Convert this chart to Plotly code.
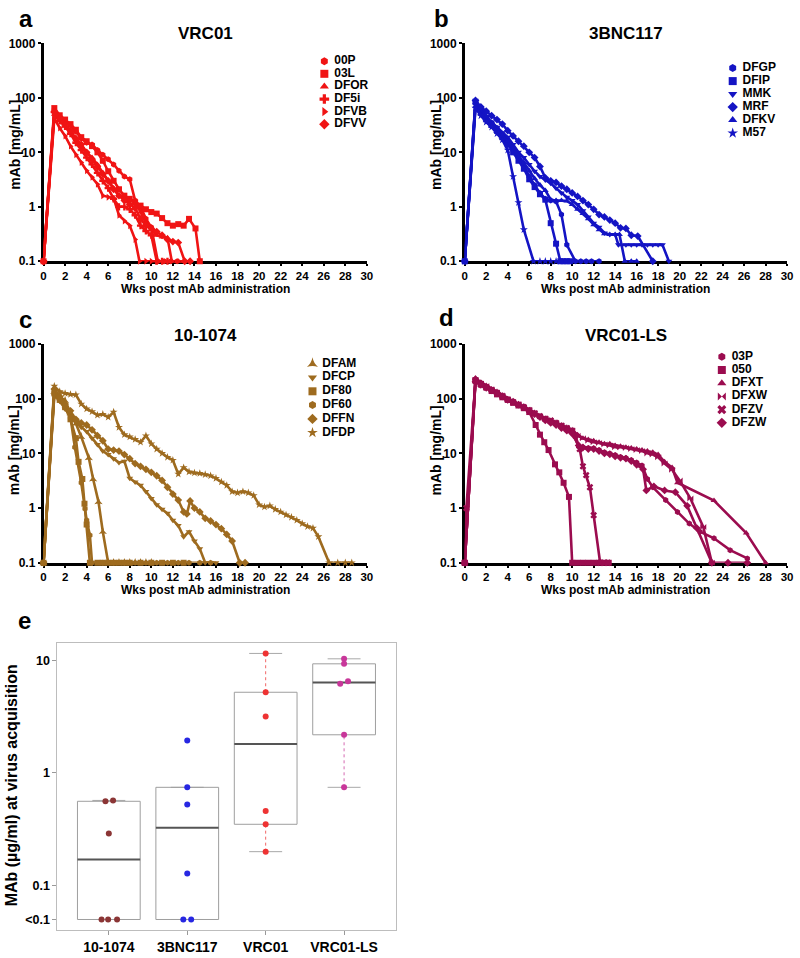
import math
import plotly.graph_objects as go

# ======================= DATA =======================
# ---- Panel a: VRC01 (weeks post mAb, mAb level) ----
a_names = ["00P", "03L", "DFOR", "DF5i", "DFVB", "DFVV"]
a_wk_00P = [0, 1, 1.5, 2, 2.5, 3, 3.5, 4, 4.5, 5, 5.5, 6, 6.5, 7, 7.5, 8, 8.5, 9, 9.5, 10, 10.6, 11.2, 11.8, 12.4]
a_mab_00P = [0.1, 60, 45, 38, 31, 24, 18, 15, 14, 11, 9, 7.5, 6, 4.6, 3.6, 3.2, 1.3, 1.0, 0.6, 0.42, 0.1, 0.1, 0.1, 0.1]
a_wk_03L = [0, 1, 1.5, 2, 2.5, 3, 3.5, 4, 4.5, 5, 5.5, 6, 6.5, 7, 7.5, 8, 8.5, 9, 9.5, 10, 10.5, 11, 11.5, 12, 12.5, 13, 13.5, 14.1, 14.5]
a_mab_03L = [0.1, 65, 48, 40, 33, 26, 19, 16, 13, 10, 7, 4.5, 3.0, 2.1, 1.6, 1.4, 1.2, 1.05, 0.9, 0.8, 0.75, 0.62, 0.5, 0.45, 0.48, 0.45, 0.6, 0.4, 0.1]
a_wk_DFOR = [0, 1, 1.5, 2, 2.5, 3, 3.5, 4, 4.5, 5, 5.5, 6, 6.5, 7, 7.5, 8, 8.5, 9, 9.5, 10, 10.5, 11, 11.5, 11.9, 12.5, 13]
a_mab_DFOR = [0.1, 50, 38, 30, 24, 17, 13, 10, 8, 6, 4.2, 3, 2.2, 1.6, 1.4, 1.3, 1.2, 0.8, 0.5, 0.38, 0.3, 0.28, 0.27, 0.1, 0.1, 0.1]
a_wk_DF5i = [0, 1, 1.5, 2, 2.5, 3, 3.5, 4, 4.5, 5, 5.5, 6, 6.5, 7, 7.5, 8, 8.5, 9, 9.5, 10, 10.5, 11, 11.5]
a_mab_DF5i = [0.1, 55, 38, 30, 22, 15, 11, 8, 6, 4.2, 3, 2.2, 1.4, 1.0, 1.0, 0.9, 0.7, 0.45, 0.36, 0.3, 0.1, 0.1, 0.1]
a_wk_DFVB = [0, 1, 1.5, 2, 2.5, 3, 3.5, 4, 4.5, 5, 5.5, 6, 6.5, 7, 7.5, 8, 8.5, 8.9, 9.5, 10, 10.5]
a_mab_DFVB = [0.1, 42, 28, 20, 13, 9, 6.5, 4.6, 3.5, 2.6, 1.6, 1.5, 1.45, 0.7, 0.55, 0.45, 0.25, 0.1, 0.1, 0.1, 0.1]
a_wk_DFVV = [0, 1, 1.5, 2, 2.5, 3, 3.5, 4, 4.5, 5, 5.5, 6, 6.5, 7, 7.5, 8, 8.5, 9, 9.5, 10, 10.5, 11, 11.5, 12, 12.5, 13.1, 13.6]
a_mab_DFVV = [0.1, 55, 42, 33, 25, 18, 14, 10, 7.5, 5.5, 4, 3, 2.1, 1.6, 1.3, 1.1, 0.95, 0.6, 0.45, 0.4, 0.35, 0.3, 0.25, 0.23, 0.22, 0.1, 0.1]

# ---- Panel b: 3BNC117 ----
b_names = ["DFGP", "DFIP", "MMK", "MRF", "DFKV", "M57"]
b_wk_DFGP = [0, 1, 1.5, 2, 2.5, 3, 3.5, 4, 4.5, 5, 5.5, 6, 6.5, 7, 7.5, 8, 8.5, 9, 9.5, 10.3, 10.8, 11.3, 11.8, 12.5]
b_mab_DFGP = [0.1, 82, 60, 45, 35, 28, 21, 16, 11, 8, 5.5, 3.6, 2.5, 1.8, 1.4, 1.3, 1.25, 0.72, 0.2, 0.1, 0.1, 0.1, 0.1, 0.1]
b_wk_DFIP = [0, 1, 1.5, 2, 2.5, 3, 3.5, 4, 4.5, 5, 5.5, 6, 6.5, 7, 7.5, 8, 8.5, 8.9, 9.2, 9.5, 9.8]
b_mab_DFIP = [0.1, 85, 55, 42, 32, 25, 19, 14, 10, 7, 5, 3.2, 2.3, 1.7, 1.35, 0.5, 0.21, 0.1, 0.1, 0.1, 0.1]
b_wk_MMK = [0, 1, 1.5, 2, 2.5, 3, 3.5, 4, 4.5, 5, 5.5, 6, 6.5, 7, 7.5, 8, 8.5, 9, 9.5, 10, 10.5, 11, 11.5, 12, 12.5, 13, 13.5, 14, 14.3, 15, 15.5, 16, 16.5, 17, 17.5, 18, 18.4, 19]
b_mab_MMK = [0.1, 75, 58, 45, 36, 29, 23, 19, 14, 10, 8, 6, 4.5, 3.6, 3.1, 2.7, 2.2, 1.8, 1.5, 1.3, 1.1, 0.85, 0.65, 0.5, 0.42, 0.33, 0.31, 0.31, 0.2, 0.2, 0.2, 0.2, 0.2, 0.2, 0.2, 0.2, 0.2, 0.1]
b_wk_MRF = [0, 1, 1.5, 2, 2.5, 3, 3.5, 4, 4.5, 5, 5.5, 6, 6.5, 7, 7.5, 8, 8.5, 9, 9.5, 10, 10.5, 11, 11.5, 12, 12.5, 13, 13.5, 14, 14.5, 15, 15.5, 16.1, 17.5]
b_mab_MRF = [0.1, 90, 68, 57, 47, 40, 33, 25, 20, 16, 13, 10, 8, 5.5, 3.4, 3.0, 2.8, 2.4, 2.1, 1.8, 1.55, 1.3, 1.1, 0.9, 0.72, 0.65, 0.57, 0.5, 0.41, 0.4, 0.3, 0.29, 0.1]
b_wk_DFKV = [0, 1, 1.5, 2, 2.5, 3, 3.5, 4, 4.5, 5, 5.5, 6, 6.5, 7, 7.5, 8, 8.5, 9, 9.5, 10, 10.5, 11, 11.5, 12, 12.5, 13, 13.5, 14, 14.4, 14.9, 15.5, 16]
b_mab_DFKV = [0.1, 70, 50, 38, 30, 25, 20, 16, 12, 8.5, 6.5, 4.6, 3.3, 2.5, 2.0, 1.35, 1.3, 1.3, 1.28, 1.1, 0.9, 0.75, 0.6, 0.47, 0.38, 0.32, 0.31, 0.31, 0.31, 0.1, 0.1, 0.1]
b_wk_M57 = [0, 1, 1.5, 2, 2.5, 3, 3.5, 4, 4.5, 5, 5.5, 6.4, 7, 7.5, 8, 8.5]
b_mab_M57 = [0.1, 65, 47, 36, 29, 22, 17, 11, 3.6, 1.2, 0.38, 0.1, 0.1, 0.1, 0.1, 0.1]

# ---- Panel c: 10-1074 ----
c_names = ["DFAM", "DFCP", "DF80", "DF60", "DFFN", "DFDP"]
c_wk_DFAM = [0, 1, 1.5, 2, 2.5, 3, 3.5, 4.2, 4.6, 5.1, 5.5, 6, 6.5, 7, 7.5, 8, 8.5, 9, 9.5, 10]
c_mab_DFAM = [0.1, 135, 110, 92, 55, 35, 20, 8.3, 3.4, 1.3, 0.37, 0.1, 0.1, 0.1, 0.1, 0.1, 0.1, 0.1, 0.1, 0.1]
c_wk_DFCP = [0, 1, 1.5, 2, 2.5, 3, 3.5, 4, 4.5, 5, 5.5, 6, 6.5, 7, 7.5, 8, 8.5, 9, 9.5, 10, 10.5, 11, 11.5, 12, 12.5, 13, 13.5, 14, 14.5, 15, 15.5, 16]
c_mab_DFCP = [0.1, 115, 90, 65, 48, 37, 30, 25, 19, 14.5, 11, 9.5, 8, 6.8, 7.2, 3.5, 3.0, 2.6, 2.0, 1.5, 1.15, 0.95, 0.8, 0.6, 0.48, 0.3, 0.37, 0.25, 0.18, 0.1, 0.1, 0.1]
c_wk_DF80 = [0, 1, 1.5, 2, 2.5, 3, 3.25, 3.6, 3.8, 4.0, 4.3, 5, 5.5, 6, 6.5, 7, 7.5, 8, 9, 10, 11, 12, 13]
c_mab_DF80 = [0.1, 125, 95, 70, 42, 19, 7, 3.4, 1.2, 0.5, 0.1, 0.1, 0.1, 0.1, 0.1, 0.1, 0.1, 0.1, 0.1, 0.1, 0.1, 0.1, 0.1]
c_wk_DF60 = [0, 1, 1.5, 2, 2.5, 2.9, 3.5, 3.85, 4.0, 4.3, 4.5, 5.5, 6.5, 7.5, 8.5, 9.5, 10.5, 11.5, 12.5, 13.5, 14.5, 15.5]
c_mab_DF60 = [0.1, 140, 100, 72, 45, 13, 2.9, 0.97, 0.6, 0.32, 0.1, 0.1, 0.1, 0.1, 0.1, 0.1, 0.1, 0.1, 0.1, 0.1, 0.1, 0.1]
c_wk_DFFN = [0, 1, 1.5, 2, 2.5, 3, 3.5, 4, 4.5, 5, 5.5, 6, 6.5, 7, 7.5, 8, 8.5, 9, 9.5, 10, 10.5, 11, 11.5, 12, 12.5, 13, 13.3, 13.6, 14, 14.5, 15, 15.5, 16, 16.5, 17, 17.5, 18.2, 18.7]
c_mab_DFFN = [0.1, 150, 110, 80, 60, 42, 36, 33, 27, 21, 17, 12, 11.5, 11, 9.5, 8, 6.5, 5.8, 5.1, 4.5, 3.9, 3.2, 2.4, 1.8, 1.4, 0.85, 0.78, 1.35, 1.0, 0.85, 0.65, 0.58, 0.5, 0.42, 0.33, 0.25, 0.1, 0.1]
c_wk_DFDP = [0, 1, 1.5, 2, 2.5, 3, 3.5, 4, 4.5, 5, 5.5, 6, 6.5, 7, 7.5, 8, 8.5, 9, 9.5, 10, 10.5, 11, 11.5, 12, 12.5, 13, 13.5, 14, 14.5, 15, 15.5, 16, 16.5, 17, 17.5, 18, 18.5, 19, 19.5, 20, 20.5, 21, 21.5, 22, 22.5, 23, 23.5, 24, 24.5, 25, 25.5, 26.5, 27.3, 28, 28.6]
c_mab_DFDP = [0.1, 170, 135, 125, 120, 118, 80, 65, 58, 50, 52, 46, 57, 30, 22, 20, 18, 16, 21, 15, 12, 10, 8.5, 7.5, 4.2, 5.5, 4.6, 4.4, 4.3, 4.1, 3.9, 3.5, 3.0, 2.6, 2.0, 1.9, 2.0, 1.9, 1.7, 1.15, 1.05, 1.1, 0.95, 0.85, 0.75, 0.68, 0.6, 0.52, 0.46, 0.43, 0.3, 0.1, 0.1, 0.1, 0.1]

# ---- Panel d: VRC01-LS ----
d_names = ["03P", "050", "DFXT", "DFXW", "DFZV", "DFZW"]
d_wk_03P = [0, 1, 1.5, 2, 2.5, 3, 3.5, 4, 4.5, 5, 5.5, 6, 6.5, 7, 7.5, 8, 8.5, 9, 9.5, 10, 10.6, 11, 11.5, 12, 12.5, 13, 13.5, 14, 14.5, 15, 15.5, 16, 16.5, 17, 17.5, 18.7, 19.8, 20.9, 21.9, 23.2, 24.7, 26.3]
d_mab_03P = [0.1, 230, 195, 165, 140, 122, 108, 97, 86, 77, 68, 61, 53, 47, 42, 39, 35, 31, 28, 25, 13.4, 13, 12.5, 12.4, 11.5, 10.5, 10, 9.3, 8.6, 8.2, 7.6, 6.8, 6, 3.4, 2.4, 1.4, 0.85, 0.52, 0.37, 0.28, 0.17, 0.12]
d_wk_050 = [0, 1, 1.5, 2, 2.5, 3, 3.5, 4, 4.5, 5, 5.5, 6, 6.6, 7, 7.4, 7.8, 8.4, 8.8, 9.2, 9.7, 10, 10.5, 11, 11.5, 12, 12.5, 13, 13.4]
d_mab_050 = [0.1, 215, 185, 160, 138, 120, 106, 95, 84, 75, 67, 57, 33, 22, 16, 11.5, 6.3, 4.5, 2.9, 1.6, 0.1, 0.1, 0.1, 0.1, 0.1, 0.1, 0.1, 0.1]
d_wk_DFXT = [0, 1, 1.5, 2, 2.5, 3, 3.5, 4, 4.5, 5, 5.5, 6, 6.5, 7, 7.5, 8, 8.5, 9, 9.5, 10, 10.5, 11, 11.5, 12, 12.5, 13, 13.5, 14, 14.5, 15, 15.5, 16, 16.5, 17, 17.5, 18, 18.6, 19.3, 19.8, 23.2, 26.2, 28]
d_mab_DFXT = [0.1, 240, 200, 175, 150, 135, 115, 100, 90, 80, 72, 63, 56, 48, 44, 40, 37, 33, 30, 27, 22, 19, 18, 17, 16, 15, 15, 14, 13.5, 13, 12.5, 12, 11.5, 11, 10.5, 9.5, 7, 5.5, 2.9, 1.37, 0.35, 0.1]
d_wk_DFXW = [0, 1, 1.5, 2, 2.5, 3, 3.5, 4, 4.5, 5, 5.5, 6, 6.5, 7, 7.5, 8, 8.5, 9, 9.5, 10, 10.5, 11, 11.5, 12, 12.5, 13, 13.5, 14, 14.5, 15, 15.5, 16, 16.5, 17, 17.5, 18, 18.6, 19.3, 20, 21, 22.2, 23]
d_mab_DFXW = [0.1, 220, 190, 170, 148, 130, 112, 98, 88, 79, 70, 62, 54, 47, 43, 39, 36, 32, 29, 26, 21, 19, 17, 16, 15.5, 14.5, 14, 13, 13, 12.5, 12, 11.5, 11, 10, 9.5, 8.5, 6.5, 5, 3.2, 1.5, 0.45, 0.1]
d_wk_DFZV = [0, 0.15, 1, 1.5, 2, 2.5, 3, 3.5, 4, 4.5, 5, 5.5, 6, 6.5, 7, 7.5, 8, 8.5, 9, 9.5, 10, 10.3, 10.7, 11, 11.3, 11.65, 12, 12.6, 13, 13.3]
d_mab_DFZV = [0.1, 1.0, 210, 180, 162, 145, 128, 112, 96, 86, 78, 70, 62, 54, 48, 43, 40, 36, 32, 29, 26, 21, 12, 5.8, 4, 2.4, 0.74, 0.1, 0.1, 0.1]
d_wk_DFZW = [0, 1, 1.5, 2, 2.5, 3, 3.5, 4, 4.5, 5, 5.5, 6, 6.5, 7, 7.5, 8, 8.5, 9, 9.5, 10, 10.6, 11, 11.5, 12, 12.5, 13, 13.5, 14, 14.5, 15, 15.5, 16, 16.6, 16.9, 17.6, 18.6, 19.6, 20.7, 21.6, 23, 24.5, 26.3]
d_mab_DFZW = [0.1, 205, 180, 158, 142, 125, 110, 95, 88, 78, 70, 60, 52, 46, 40, 36, 33, 29, 26, 23, 14, 12.8, 12, 12, 11, 10, 9.6, 8.8, 8.3, 8, 7.2, 6.2, 5.1, 2.1, 2.5, 2.1, 1.95, 1.1, 0.43, 0.1, 0.1, 0.1]

# ---- Panel e: mAb at virus acquisition (µg/ml), "<0.1" shown at 0.05 ----
e_groups = ["10-1074", "3BNC117", "VRC01", "VRC01-LS"]
e_10_1074 = [0.05, 0.05, 0.05, 0.29, 0.56, 0.57]
e_3BNC117 = [0.05, 0.05, 0.128, 0.525, 0.745, 1.94]
e_VRC01 = [0.2, 0.35, 0.46, 3.16, 5.2, 11.5]
e_VRC01_LS = [0.745, 2.18, 6.2, 6.5, 9.3, 10.3]
e_jit_10_1074 = [-0.093, -0.009, 0.105, 0.0, -0.043, 0.054]
e_jit_3BNC117 = [-0.05, 0.05, 0.0, 0.0, 0.0, 0.0]
e_jit_VRC01 = [0.0, 0.0, 0.0, 0.0, 0.0, 0.0]
e_jit_VRC01_LS = [0.0, 0.0, -0.05, 0.05, 0.0, 0.0]
e_ytick_vals = [0.05, 0.1, 1, 10]
e_ytick_text = ["<0.1", "0.1", "1", "10"]

wk_ticks = list(range(0, 31, 2))
mab_ticks = [0.1, 1, 10, 100, 1000]
mab_tick_text = ["0.1", "1", "10", "100", "1000"]

# ======================= STYLE / LAYOUT =======================
W, H = 800, 958
FONT = "Arial, 'Liberation Sans', sans-serif"


def fx(p):
    return p / W


def fy(p):
    return 1 - p / H


panels = [
    dict(n=1, letter="a", title="VRC01", color="#F01414", x0=41, x1=368, y0=37, y1=258,
         names=a_names,
         series=[(a_wk_00P, a_mab_00P), (a_wk_03L, a_mab_03L), (a_wk_DFOR, a_mab_DFOR),
                 (a_wk_DF5i, a_mab_DF5i), (a_wk_DFVB, a_mab_DFVB), (a_wk_DFVV, a_mab_DFVV)],
         symbols=["hexagon", "square", "triangle-up", "cross", "triangle-right", "diamond"],
         leg=(325, 55, 12.8), letpos=(23, 12), ytit=140),
    dict(n=2, letter="b", title="3BNC117", color="#1414C4", x0=467, x1=793, y0=37, y1=258,
         names=b_names,
         series=[(b_wk_DFGP, b_mab_DFGP), (b_wk_DFIP, b_mab_DFIP), (b_wk_MMK, b_mab_MMK),
                 (b_wk_MRF, b_mab_MRF), (b_wk_DFKV, b_mab_DFKV), (b_wk_M57, b_mab_M57)],
         symbols=["hexagon", "square", "triangle-down", "diamond", "triangle-up", "star"],
         leg=(738, 62, 13.2), letpos=(443, 12), ytit=140),
    dict(n=3, letter="c", title="10-1074", color="#9E6B1F", x0=41, x1=368, y0=342, y1=564,
         names=c_names,
         series=[(c_wk_DFAM, c_mab_DFAM), (c_wk_DFCP, c_mab_DFCP), (c_wk_DF80, c_mab_DF80),
                 (c_wk_DF60, c_mab_DF60), (c_wk_DFFN, c_mab_DFFN), (c_wk_DFDP, c_mab_DFDP)],
         symbols=["star-triangle-up", "triangle-down", "square", "hexagon", "diamond", "star"],
         leg=(313, 362, 14.0), letpos=(23, 317), ytit=450),
    dict(n=4, letter="d", title="VRC01-LS", color="#9B0C4F", x0=467, x1=793, y0=342, y1=564,
         names=d_names,
         series=[(d_wk_03P, d_mab_03P), (d_wk_050, d_mab_050), (d_wk_DFXT, d_mab_DFXT),
                 (d_wk_DFXW, d_mab_DFXW), (d_wk_DFZV, d_mab_DFZV), (d_wk_DFZW, d_mab_DFZW)],
         symbols=["hexagon", "square", "triangle-up", "bowtie", "x", "diamond"],
         leg=(727, 355, 13.4), letpos=(449, 315), ytit=450),
]

fig = go.Figure()
layout = dict(
    width=W, height=H, margin=dict(l=0, r=0, t=0, b=0),
    paper_bgcolor="white", plot_bgcolor="white", showlegend=False,
    font=dict(family=FONT, color="black"),
)
annotations = []

for p in panels:
    n = p["n"]
    xs = "" if n == 1 else str(n)
    xa, ya = "x" + xs, "y" + xs
    layout["xaxis" + xs] = dict(
        domain=[fx(p["x0"]), fx(p["x1"])], range=[0, 30], anchor=ya,
        tickvals=wk_ticks, ticktext=[str(t) for t in wk_ticks],
        showline=True, linecolor="black", linewidth=2.5, ticks="outside",
        ticklen=2, tickwidth=2, tickcolor="black", showgrid=False, zeroline=False,
        tickfont=dict(family=FONT, size=11.5, color="black", weight="bold"),
        layer="below traces",
    )
    layout["yaxis" + xs] = dict(
        domain=[fy(p["y1"]), fy(p["y0"])], type="log", range=[-1, 3], anchor=xa,
        tickvals=mab_ticks, ticktext=mab_tick_text,
        showline=True, linecolor="black", linewidth=2.5, ticks="outside",
        ticklen=3, tickwidth=2, tickcolor="black", showgrid=False, zeroline=False,
        tickfont=dict(family=FONT, size=12, color="black", weight="bold"),
        layer="below traces",
    )
    for (wk, mab), name, sym in zip(p["series"], p["names"], p["symbols"]):
        fig.add_trace(go.Scatter(
            x=wk, y=mab, name=name, mode="lines+markers", xaxis=xa, yaxis=ya,
            line=dict(color=p["color"], width=2.6),
            marker=dict(symbol=sym, size=6, color=p["color"]),
            cliponaxis=False,
        ))
    # custom legend on its own invisible axes
    lx = str(n + 5)
    mx, my0, dy = p["leg"]
    nn = len(p["names"])
    layout["xaxis" + lx] = dict(domain=[fx(mx - 10), fx(mx + 60)], range=[-1, 6],
                                visible=False, anchor="y" + lx, fixedrange=True)
    top = my0 - dy / 2
    layout["yaxis" + lx] = dict(domain=[fy(top + nn * dy), fy(top)], range=[nn - 0.5, -0.5],
                                visible=False, anchor="x" + lx, fixedrange=True)
    rows = list(range(nn))
    fig.add_trace(go.Scatter(
        x=[0] * nn, y=rows, mode="markers", xaxis="x" + lx, yaxis="y" + lx,
        marker=dict(symbol=p["symbols"], size=8, color=p["color"]),
        cliponaxis=False, hoverinfo="skip",
    ))
    fig.add_trace(go.Scatter(
        x=[1.0] * nn, y=rows, mode="text", text=p["names"], textposition="middle right",
        xaxis="x" + lx, yaxis="y" + lx, cliponaxis=False, hoverinfo="skip",
        textfont=dict(family=FONT, size=12, color="black", weight="bold"),
    ))
    cx = (p["x0"] + p["x1"]) / 2
    annotations += [
        dict(text=p["title"], x=fx(cx), y=fy(27 if n <= 2 else 333), xref="paper", yref="paper",
             showarrow=False, xanchor="center", yanchor="middle",
             font=dict(family=FONT, size=17, color="black", weight="bold")),
        dict(text=p["letter"], x=fx(p["letpos"][0]), y=fy(p["letpos"][1]), xref="paper", yref="paper",
             showarrow=False, xanchor="center", yanchor="middle",
             font=dict(family=FONT, size=24, color="black", weight="bold")),
        dict(text="Wks post mAb administration", x=fx(cx), y=fy(p["y1"] + 28), xref="paper",
             yref="paper", showarrow=False, xanchor="center", yanchor="middle",
             font=dict(family=FONT, size=12, color="black", weight="bold")),
        dict(text="mAb [mg/mL]", x=fx(p["x0"] - 29), y=fy(p["ytit"]), xref="paper", yref="paper",
             showarrow=False, xanchor="center", yanchor="middle", textangle=-90,
             font=dict(family=FONT, size=14, color="black", weight="bold")),
    ]

# ---------------- Panel e: box plots ----------------
e_data = [e_10_1074, e_3BNC117, e_VRC01, e_VRC01_LS]
e_jit = [e_jit_10_1074, e_jit_3BNC117, e_jit_VRC01, e_jit_VRC01_LS]
e_colors = ["#8B3535", "#2727E2", "#EE3333", "#C8379A"]


def fivenum(v):
    s = sorted(v)
    n = len(s)
    n4 = ((n + 3) // 2) / 2
    d = [1, n4, (n + 1) / 2, n + 1 - n4, n]
    return [0.5 * (s[int(math.floor(i)) - 1] + s[int(math.ceil(i)) - 1]) for i in d]


EX0, EX1, EY0, EY1 = 55, 397, 645, 937
layout["xaxis5"] = dict(
    domain=[fx(EX0), fx(EX1)], range=[-0.656, 3.656], anchor="y5",
    tickvals=list(range(len(e_groups))), ticktext=e_groups,
    showline=True, mirror=True, linecolor="#BDBDBD", linewidth=1,
    ticks="outside", ticklen=4, tickwidth=1, tickcolor="#999999",
    showgrid=False, zeroline=False,
    tickfont=dict(family=FONT, size=14, color="black", weight="bold"),
)
layout["yaxis5"] = dict(
    domain=[fy(EY1), fy(EY0)], type="log", range=[-1.397, 1.157], anchor="x5",
    tickvals=e_ytick_vals, ticktext=e_ytick_text,
    showline=True, mirror=True, linecolor="#BDBDBD", linewidth=1,
    ticks="outside", ticklen=4, tickwidth=1, tickcolor="#999999",
    showgrid=False, zeroline=False,
    tickfont=dict(family=FONT, size=12.5, color="black", weight="bold"),
)
HALF = 0.4
CAP = 0.21
for i, (vals, col) in enumerate(zip(e_data, e_colors)):
    mn, lh, med, uh, mx_ = fivenum(vals)
    iqr = uh - lh
    lo = min(v for v in vals if v >= lh - 1.5 * iqr)
    hi = max(v for v in vals if v <= uh + 1.5 * iqr)
    for a_, b_ in ((uh, hi), (lo, lh)):
        if b_ != a_:
            fig.add_trace(go.Scatter(x=[i, i], y=[a_, b_], mode="lines", xaxis="x5", yaxis="y5",
                                     line=dict(color=col, width=1, dash="dot"), opacity=0.75,
                                     hoverinfo="skip"))
    for yv in (lo, hi):
        fig.add_trace(go.Scatter(x=[i - CAP, i + CAP], y=[yv, yv], mode="lines", xaxis="x5",
                                 yaxis="y5", line=dict(color="#A8A8A8", width=1), hoverinfo="skip"))
    fig.add_trace(go.Scatter(x=[i - HALF, i + HALF, i + HALF, i - HALF, i - HALF],
                             y=[lh, lh, uh, uh, lh], mode="lines", xaxis="x5", yaxis="y5",
                             line=dict(color="#9E9E9E", width=1), hoverinfo="skip"))
    fig.add_trace(go.Scatter(x=[i - HALF, i + HALF], y=[med, med], mode="lines", xaxis="x5",
                             yaxis="y5", line=dict(color="#555555", width=2), hoverinfo="skip"))
for i, (vals, jit, col, g) in enumerate(zip(e_data, e_jit, e_colors, e_groups)):
    fig.add_trace(go.Scatter(x=[i + j for j in jit], y=vals, mode="markers", name=g,
                             xaxis="x5", yaxis="y5", cliponaxis=False,
                             marker=dict(size=6, color=col)))

annotations += [
    dict(text="e", x=fx(22), y=fy(623), xref="paper", yref="paper", showarrow=False,
         xanchor="center", yanchor="middle",
         font=dict(family=FONT, size=24, color="black", weight="bold")),
    dict(text="MAb (µg/ml) at virus acquisition", x=fx(9), y=fy(790), xref="paper", yref="paper",
         showarrow=False, xanchor="center", yanchor="middle", textangle=-90,
         font=dict(family=FONT, size=16, color="black", weight="bold")),
]

layout["annotations"] = annotations
fig.update_layout(**layout)
fig.write_html(
    "out.html",
    config={"displayModeBar": False},
    post_script="document.body.style.margin='0px';document.body.style.overflow='hidden';",
)
